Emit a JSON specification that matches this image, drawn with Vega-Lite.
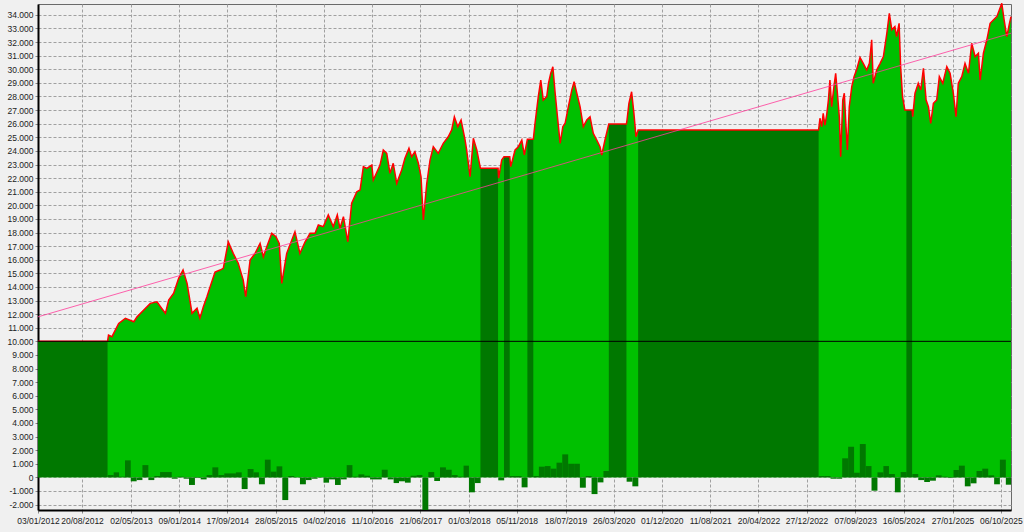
{
  "$schema": "https://vega.github.io/schema/vega-lite/v6.json",
  "width": 973,
  "height": 506,
  "autosize": {"type": "none"},
  "padding": {"left": 38, "top": 4, "right": 13, "bottom": 22},
  "background": "#f0f0f0",
  "config": {
    "view": {"fill": "#f0f0f0", "stroke": "#6a6a6a", "strokeWidth": 1},
    "axis": {
      "labelFont": "Liberation Sans",
      "labelFontSize": 8.5,
      "labelColor": "#222222",
      "gridColor": "#a0a0a0",
      "gridDash": [3, 2],
      "gridWidth": 1,
      "domainColor": "#000000",
      "domainWidth": 2,
      "tickColor": "#888888",
      "tickSize": 3
    }
  },
  "datasets": {
    "eq": [
      {"d": "2012-01-03", "v": 10000}, {"d": "2012-12-31", "v": 10000}, {"d": "2013-01-05", "v": 10460}, {"d": "2013-01-23", "v": 10340},
      {"d": "2013-02-27", "v": 11320}, {"d": "2013-04-03", "v": 11690}, {"d": "2013-05-17", "v": 11440}, {"d": "2013-06-03", "v": 11800},
      {"d": "2013-07-08", "v": 12300}, {"d": "2013-08-11", "v": 12790}, {"d": "2013-09-15", "v": 12900}, {"d": "2013-10-11", "v": 12400},
      {"d": "2013-10-29", "v": 12060}, {"d": "2013-11-15", "v": 13040}, {"d": "2013-12-11", "v": 13530}, {"d": "2014-01-06", "v": 14630},
      {"d": "2014-01-29", "v": 15240}, {"d": "2014-02-19", "v": 14260}, {"d": "2014-03-17", "v": 12060}, {"d": "2014-04-12", "v": 12430},
      {"d": "2014-04-27", "v": 11700}, {"d": "2014-05-15", "v": 12540}, {"d": "2014-06-03", "v": 13300}, {"d": "2014-06-19", "v": 14000},
      {"d": "2014-07-15", "v": 15100}, {"d": "2014-08-10", "v": 15240}, {"d": "2014-08-27", "v": 15370}, {"d": "2014-09-22", "v": 17320},
      {"d": "2014-10-18", "v": 16470}, {"d": "2014-11-13", "v": 15740}, {"d": "2014-12-09", "v": 14500}, {"d": "2014-12-22", "v": 13280},
      {"d": "2015-01-14", "v": 15980}, {"d": "2015-02-09", "v": 16470}, {"d": "2015-03-07", "v": 17200}, {"d": "2015-03-24", "v": 16220},
      {"d": "2015-04-11", "v": 16960}, {"d": "2015-05-07", "v": 17940}, {"d": "2015-05-29", "v": 17690}, {"d": "2015-06-15", "v": 17200},
      {"d": "2015-06-28", "v": 14260}, {"d": "2015-07-24", "v": 16470}, {"d": "2015-09-05", "v": 18060}, {"d": "2015-10-01", "v": 16470},
      {"d": "2015-10-28", "v": 17320}, {"d": "2015-11-23", "v": 17940}, {"d": "2015-12-19", "v": 17940}, {"d": "2016-01-05", "v": 18550},
      {"d": "2016-01-31", "v": 18430}, {"d": "2016-02-26", "v": 19290}, {"d": "2016-03-23", "v": 18430}, {"d": "2016-04-13", "v": 19290},
      {"d": "2016-04-27", "v": 18310}, {"d": "2016-05-15", "v": 19160}, {"d": "2016-06-07", "v": 17320}, {"d": "2016-06-27", "v": 20150},
      {"d": "2016-07-24", "v": 21000}, {"d": "2016-08-10", "v": 21130}, {"d": "2016-08-27", "v": 22840}, {"d": "2016-09-14", "v": 22720},
      {"d": "2016-10-10", "v": 22960}, {"d": "2016-10-18", "v": 21860}, {"d": "2016-11-22", "v": 22960}, {"d": "2016-12-09", "v": 24070},
      {"d": "2016-12-27", "v": 23820}, {"d": "2017-01-13", "v": 22350}, {"d": "2017-01-30", "v": 23090}, {"d": "2017-02-17", "v": 21620},
      {"d": "2017-03-15", "v": 22600}, {"d": "2017-04-01", "v": 23460}, {"d": "2017-04-22", "v": 24190}, {"d": "2017-05-06", "v": 23570},
      {"d": "2017-05-23", "v": 23940}, {"d": "2017-06-10", "v": 23090}, {"d": "2017-06-24", "v": 22100}, {"d": "2017-07-06", "v": 18920},
      {"d": "2017-07-24", "v": 21620}, {"d": "2017-08-10", "v": 23330}, {"d": "2017-08-27", "v": 24310}, {"d": "2017-09-22", "v": 23820},
      {"d": "2017-10-18", "v": 24560}, {"d": "2017-11-13", "v": 25040}, {"d": "2017-12-01", "v": 25540}, {"d": "2017-12-15", "v": 26510},
      {"d": "2018-01-02", "v": 25780}, {"d": "2018-01-19", "v": 26270}, {"d": "2018-02-09", "v": 24800}, {"d": "2018-02-17", "v": 24070},
      {"d": "2018-03-07", "v": 22100}, {"d": "2018-03-24", "v": 24930}, {"d": "2018-04-11", "v": 24070}, {"d": "2018-04-30", "v": 22720},
      {"d": "2018-07-31", "v": 22720}, {"d": "2018-08-03", "v": 21990}, {"d": "2018-08-19", "v": 23330}, {"d": "2018-08-31", "v": 23570},
      {"d": "2018-09-30", "v": 23570}, {"d": "2018-10-05", "v": 22840}, {"d": "2018-10-28", "v": 24070}, {"d": "2018-11-14", "v": 24310},
      {"d": "2018-12-02", "v": 24800}, {"d": "2018-12-15", "v": 23700}, {"d": "2018-12-31", "v": 24850}, {"d": "2019-01-31", "v": 24850},
      {"d": "2019-02-09", "v": 26030}, {"d": "2019-02-26", "v": 27990}, {"d": "2019-03-11", "v": 29210}, {"d": "2019-03-24", "v": 27740},
      {"d": "2019-04-11", "v": 27990}, {"d": "2019-04-20", "v": 28970}, {"d": "2019-05-02", "v": 29710}, {"d": "2019-05-13", "v": 30190},
      {"d": "2019-05-25", "v": 28240}, {"d": "2019-06-06", "v": 26510}, {"d": "2019-06-20", "v": 24560}, {"d": "2019-07-04", "v": 25780},
      {"d": "2019-07-16", "v": 26030}, {"d": "2019-08-02", "v": 27250}, {"d": "2019-08-20", "v": 28480}, {"d": "2019-09-01", "v": 29090},
      {"d": "2019-09-15", "v": 28240}, {"d": "2019-10-02", "v": 27250}, {"d": "2019-10-19", "v": 25780}, {"d": "2019-11-06", "v": 26270},
      {"d": "2019-11-23", "v": 26510}, {"d": "2019-12-10", "v": 25290}, {"d": "2019-12-28", "v": 24800}, {"d": "2020-01-14", "v": 24310},
      {"d": "2020-01-23", "v": 23700}, {"d": "2020-02-09", "v": 24800}, {"d": "2020-02-29", "v": 25980}, {"d": "2020-05-31", "v": 25980},
      {"d": "2020-06-03", "v": 26270}, {"d": "2020-06-13", "v": 27500}, {"d": "2020-06-27", "v": 28350}, {"d": "2020-07-09", "v": 26760},
      {"d": "2020-07-20", "v": 25040}, {"d": "2020-07-31", "v": 25540}, {"d": "2023-02-28", "v": 25540}, {"d": "2023-03-07", "v": 26400},
      {"d": "2023-03-16", "v": 25780}, {"d": "2023-03-24", "v": 26760}, {"d": "2023-04-02", "v": 25900}, {"d": "2023-04-11", "v": 26640},
      {"d": "2023-04-20", "v": 27740}, {"d": "2023-04-28", "v": 29210}, {"d": "2023-05-07", "v": 27250}, {"d": "2023-05-19", "v": 28720},
      {"d": "2023-05-28", "v": 29710}, {"d": "2023-06-06", "v": 28240}, {"d": "2023-06-16", "v": 26510}, {"d": "2023-06-23", "v": 23570},
      {"d": "2023-07-04", "v": 27740}, {"d": "2023-07-12", "v": 28240}, {"d": "2023-07-21", "v": 25780}, {"d": "2023-07-28", "v": 24070},
      {"d": "2023-08-07", "v": 27250}, {"d": "2023-08-20", "v": 28720}, {"d": "2023-09-01", "v": 29460}, {"d": "2023-09-15", "v": 30000},
      {"d": "2023-10-02", "v": 30870}, {"d": "2023-10-19", "v": 30440}, {"d": "2023-11-06", "v": 29950}, {"d": "2023-11-20", "v": 30440},
      {"d": "2023-12-02", "v": 32170}, {"d": "2023-12-10", "v": 28970}, {"d": "2023-12-28", "v": 29950}, {"d": "2024-01-15", "v": 30440},
      {"d": "2024-02-01", "v": 30930}, {"d": "2024-02-19", "v": 32650}, {"d": "2024-03-03", "v": 34120}, {"d": "2024-03-16", "v": 32900},
      {"d": "2024-04-01", "v": 33140}, {"d": "2024-04-10", "v": 32400}, {"d": "2024-04-23", "v": 33380}, {"d": "2024-05-01", "v": 30190},
      {"d": "2024-05-11", "v": 27990}, {"d": "2024-05-23", "v": 27000}, {"d": "2024-05-31", "v": 27000}, {"d": "2024-06-30", "v": 27000},
      {"d": "2024-07-03", "v": 26510}, {"d": "2024-07-15", "v": 28240}, {"d": "2024-08-01", "v": 28970}, {"d": "2024-08-14", "v": 28480},
      {"d": "2024-08-28", "v": 30070}, {"d": "2024-09-11", "v": 27740}, {"d": "2024-09-23", "v": 27250}, {"d": "2024-10-05", "v": 26030},
      {"d": "2024-10-19", "v": 27500}, {"d": "2024-11-05", "v": 27740}, {"d": "2024-11-19", "v": 29460}, {"d": "2024-12-07", "v": 28970},
      {"d": "2024-12-28", "v": 30190}, {"d": "2025-01-14", "v": 29710}, {"d": "2025-01-31", "v": 28240}, {"d": "2025-02-14", "v": 26510},
      {"d": "2025-02-26", "v": 28970}, {"d": "2025-03-16", "v": 29460}, {"d": "2025-04-02", "v": 30440}, {"d": "2025-04-20", "v": 29710},
      {"d": "2025-05-07", "v": 31910}, {"d": "2025-05-25", "v": 30930}, {"d": "2025-06-11", "v": 31180}, {"d": "2025-06-20", "v": 29210},
      {"d": "2025-07-07", "v": 31180}, {"d": "2025-07-25", "v": 32170}, {"d": "2025-08-11", "v": 33380}, {"d": "2025-08-28", "v": 33630},
      {"d": "2025-09-15", "v": 33870}, {"d": "2025-09-28", "v": 34360}, {"d": "2025-10-11", "v": 34850}, {"d": "2025-10-23", "v": 33630},
      {"d": "2025-11-06", "v": 32400}, {"d": "2025-11-20", "v": 33380}, {"d": "2025-11-28", "v": 33870}
    ],
    "flat": [
      {"s": "2012-01-03", "e": "2012-12-31", "v": 10000},
      {"s": "2018-04-30", "e": "2018-07-31", "v": 22720},
      {"s": "2018-08-31", "e": "2018-09-30", "v": 23570},
      {"s": "2018-12-31", "e": "2019-01-31", "v": 24850},
      {"s": "2020-02-29", "e": "2020-05-31", "v": 25980},
      {"s": "2020-07-31", "e": "2023-02-28", "v": 25540},
      {"s": "2024-05-31", "e": "2024-06-30", "v": 27000}
    ],
    "pnl": [
      {"s": "2013-01-01", "e": "2013-02-01", "v": 170}, {"s": "2013-02-01", "e": "2013-03-01", "v": 370}, {"s": "2013-03-01", "e": "2013-04-01", "v": 50},
      {"s": "2013-04-01", "e": "2013-05-01", "v": 1250}, {"s": "2013-05-01", "e": "2013-06-01", "v": -290}, {"s": "2013-06-01", "e": "2013-07-01", "v": -200},
      {"s": "2013-07-01", "e": "2013-08-01", "v": 900}, {"s": "2013-08-01", "e": "2013-09-01", "v": -200}, {"s": "2013-09-01", "e": "2013-10-01", "v": 100},
      {"s": "2013-10-01", "e": "2013-11-01", "v": 390}, {"s": "2013-11-01", "e": "2013-12-01", "v": 390}, {"s": "2013-12-01", "e": "2014-01-01", "v": -100},
      {"s": "2014-01-01", "e": "2014-02-01", "v": 50}, {"s": "2014-02-01", "e": "2014-03-01", "v": -100}, {"s": "2014-03-01", "e": "2014-04-01", "v": -560},
      {"s": "2014-04-01", "e": "2014-05-01", "v": -50}, {"s": "2014-05-01", "e": "2014-06-01", "v": -150}, {"s": "2014-06-01", "e": "2014-07-01", "v": 170},
      {"s": "2014-07-01", "e": "2014-08-01", "v": 735}, {"s": "2014-08-01", "e": "2014-09-01", "v": 170}, {"s": "2014-09-01", "e": "2014-10-01", "v": 290},
      {"s": "2014-10-01", "e": "2014-11-01", "v": 290}, {"s": "2014-11-01", "e": "2014-12-01", "v": 370}, {"s": "2014-12-01", "e": "2015-01-01", "v": -860},
      {"s": "2015-01-01", "e": "2015-02-01", "v": 610}, {"s": "2015-02-01", "e": "2015-03-01", "v": 370}, {"s": "2015-03-01", "e": "2015-04-01", "v": -510},
      {"s": "2015-04-01", "e": "2015-05-01", "v": 1300}, {"s": "2015-05-01", "e": "2015-06-01", "v": 420}, {"s": "2015-06-01", "e": "2015-07-01", "v": 810},
      {"s": "2015-07-01", "e": "2015-08-01", "v": -1670}, {"s": "2015-08-01", "e": "2015-09-01", "v": 100}, {"s": "2015-09-01", "e": "2015-10-01", "v": -25},
      {"s": "2015-10-01", "e": "2015-11-01", "v": -510}, {"s": "2015-11-01", "e": "2015-12-01", "v": -200}, {"s": "2015-12-01", "e": "2016-01-01", "v": -100},
      {"s": "2016-01-01", "e": "2016-02-01", "v": -30}, {"s": "2016-02-01", "e": "2016-03-01", "v": -390}, {"s": "2016-03-01", "e": "2016-04-01", "v": -150},
      {"s": "2016-04-01", "e": "2016-05-01", "v": -560}, {"s": "2016-05-01", "e": "2016-06-01", "v": -150}, {"s": "2016-06-01", "e": "2016-07-01", "v": 900},
      {"s": "2016-07-01", "e": "2016-08-01", "v": 50}, {"s": "2016-08-01", "e": "2016-09-01", "v": 220}, {"s": "2016-09-01", "e": "2016-10-01", "v": 120},
      {"s": "2016-10-01", "e": "2016-11-01", "v": -150}, {"s": "2016-11-01", "e": "2016-12-01", "v": -150}, {"s": "2016-12-01", "e": "2017-01-01", "v": 560},
      {"s": "2017-01-01", "e": "2017-02-01", "v": -150}, {"s": "2017-02-01", "e": "2017-03-01", "v": -420}, {"s": "2017-03-01", "e": "2017-04-01", "v": -290},
      {"s": "2017-04-01", "e": "2017-05-01", "v": -390}, {"s": "2017-05-01", "e": "2017-06-01", "v": 120}, {"s": "2017-06-01", "e": "2017-07-01", "v": 170},
      {"s": "2017-07-01", "e": "2017-08-01", "v": -2400}, {"s": "2017-08-01", "e": "2017-09-01", "v": 390}, {"s": "2017-09-01", "e": "2017-10-01", "v": -270},
      {"s": "2017-10-01", "e": "2017-11-01", "v": 735}, {"s": "2017-11-01", "e": "2017-12-01", "v": 560}, {"s": "2017-12-01", "e": "2018-01-01", "v": 170},
      {"s": "2018-01-01", "e": "2018-02-01", "v": 50}, {"s": "2018-02-01", "e": "2018-03-01", "v": 860}, {"s": "2018-03-01", "e": "2018-04-01", "v": -1100},
      {"s": "2018-04-01", "e": "2018-05-01", "v": -420}, {"s": "2018-08-01", "e": "2018-09-01", "v": -220}, {"s": "2018-10-01", "e": "2018-11-01", "v": 100},
      {"s": "2018-11-01", "e": "2018-12-01", "v": 100}, {"s": "2018-12-01", "e": "2019-01-01", "v": -735}, {"s": "2019-02-01", "e": "2019-03-01", "v": 100},
      {"s": "2019-03-01", "e": "2019-04-01", "v": 785}, {"s": "2019-04-01", "e": "2019-05-01", "v": 830}, {"s": "2019-05-01", "e": "2019-06-01", "v": 640},
      {"s": "2019-06-01", "e": "2019-07-01", "v": 1080}, {"s": "2019-07-01", "e": "2019-08-01", "v": 1690}, {"s": "2019-08-01", "e": "2019-09-01", "v": 1000},
      {"s": "2019-09-01", "e": "2019-10-01", "v": 1000}, {"s": "2019-10-01", "e": "2019-11-01", "v": -760}, {"s": "2019-11-01", "e": "2019-12-01", "v": 100},
      {"s": "2019-12-01", "e": "2020-01-01", "v": -1230}, {"s": "2020-01-01", "e": "2020-02-01", "v": -370}, {"s": "2020-02-01", "e": "2020-03-01", "v": 470},
      {"s": "2020-06-01", "e": "2020-07-01", "v": -320}, {"s": "2020-07-01", "e": "2020-08-01", "v": -660},
      {"s": "2023-03-01", "e": "2023-04-01", "v": 100}, {"s": "2023-04-01", "e": "2023-05-01", "v": 100}, {"s": "2023-05-01", "e": "2023-06-01", "v": -100},
      {"s": "2023-06-01", "e": "2023-07-01", "v": -100}, {"s": "2023-07-01", "e": "2023-08-01", "v": 1400}, {"s": "2023-08-01", "e": "2023-09-01", "v": 2250},
      {"s": "2023-09-01", "e": "2023-10-01", "v": 340}, {"s": "2023-10-01", "e": "2023-11-01", "v": 2450}, {"s": "2023-11-01", "e": "2023-12-01", "v": 830},
      {"s": "2023-12-01", "e": "2024-01-01", "v": -980}, {"s": "2024-01-01", "e": "2024-02-01", "v": 370}, {"s": "2024-02-01", "e": "2024-03-01", "v": 830},
      {"s": "2024-03-01", "e": "2024-04-01", "v": 245}, {"s": "2024-04-01", "e": "2024-05-01", "v": -1100}, {"s": "2024-05-01", "e": "2024-06-01", "v": 390},
      {"s": "2024-07-01", "e": "2024-08-01", "v": 245}, {"s": "2024-08-01", "e": "2024-09-01", "v": -200}, {"s": "2024-09-01", "e": "2024-10-01", "v": -340},
      {"s": "2024-10-01", "e": "2024-11-01", "v": -245}, {"s": "2024-11-01", "e": "2024-12-01", "v": 150}, {"s": "2024-12-01", "e": "2025-01-01", "v": 50},
      {"s": "2025-01-01", "e": "2025-02-01", "v": -50}, {"s": "2025-02-01", "e": "2025-03-01", "v": 540}, {"s": "2025-03-01", "e": "2025-04-01", "v": 860},
      {"s": "2025-04-01", "e": "2025-05-01", "v": -660}, {"s": "2025-05-01", "e": "2025-06-01", "v": -440}, {"s": "2025-06-01", "e": "2025-07-01", "v": 470},
      {"s": "2025-07-01", "e": "2025-08-01", "v": 640}, {"s": "2025-08-01", "e": "2025-09-01", "v": 150}, {"s": "2025-09-01", "e": "2025-10-01", "v": -510},
      {"s": "2025-10-01", "e": "2025-11-01", "v": 1300}, {"s": "2025-11-01", "e": "2025-11-28", "v": -540}
    ],
    "trend": [
      {"d": "2012-01-03", "v": 11800},
      {"d": "2025-11-28", "v": 32650}
    ],
    "ref": [
      {"v": 10000}
    ]
  },
  "encoding": {
    "y": {
      "field": "v",
      "type": "quantitative",
      "title": null,
      "scale": {"domain": [-2400, 34800], "nice": false, "zero": false},
      "axis": {
        "values": [-2000, -1000, 0, 1000, 2000, 3000, 4000, 5000, 6000, 7000, 8000, 9000, 10000, 11000, 12000, 13000, 14000, 15000, 16000, 17000, 18000, 19000, 20000, 21000, 22000, 23000, 24000, 25000, 26000, 27000, 28000, 29000, 30000, 31000, 32000, 33000, 34000],
        "labelExpr": "replace(replace(format(datum.value, ','), ',', '.'), '\u2212', '-')",
        "labelOverlap": false,
        "labelPadding": 2,
        "grid": true
      }
    }
  },
  "layer": [
    {
      "data": {"name": "eq"},
      "mark": {"type": "area", "color": "#00c000", "interpolate": "linear"},
      "encoding": {
        "x": {
          "field": "d",
          "type": "temporal",
          "title": null,
          "scale": {"domain": [{"year": 2012, "month": 1, "date": 3}, {"year": 2025, "month": 11, "date": 28}]},
          "axis": {
            "values": [
              {"year": 2012, "month": 1, "date": 3}, {"year": 2012, "month": 8, "date": 20}, {"year": 2013, "month": 5, "date": 2},
              {"year": 2014, "month": 1, "date": 9}, {"year": 2014, "month": 9, "date": 17}, {"year": 2015, "month": 5, "date": 28},
              {"year": 2016, "month": 2, "date": 4}, {"year": 2016, "month": 10, "date": 11}, {"year": 2017, "month": 6, "date": 21},
              {"year": 2018, "month": 3, "date": 1}, {"year": 2018, "month": 11, "date": 5}, {"year": 2019, "month": 7, "date": 18},
              {"year": 2020, "month": 3, "date": 26}, {"year": 2020, "month": 12, "date": 1}, {"year": 2021, "month": 8, "date": 11},
              {"year": 2022, "month": 4, "date": 20}, {"year": 2022, "month": 12, "date": 27}, {"year": 2023, "month": 9, "date": 7},
              {"year": 2024, "month": 5, "date": 16}, {"year": 2025, "month": 1, "date": 27}, {"year": 2025, "month": 10, "date": 6}
            ],
            "format": "%d/%m/%Y",
            "formatType": "time",
            "labelFlush": false,
            "labelOverlap": false,
            "labelPadding": 3,
            "grid": true
          }
        },
        "y2": {"datum": 0}
      }
    },
    {
      "data": {"name": "flat"},
      "mark": {"type": "rect", "color": "#007800"},
      "encoding": {
        "x": {"field": "s", "type": "temporal", "title": null},
        "x2": {"field": "e"},
        "y2": {"datum": 0}
      }
    },
    {
      "data": {"name": "pnl"},
      "mark": {"type": "rect", "color": "#007800"},
      "encoding": {
        "x": {"field": "s", "type": "temporal", "title": null},
        "x2": {"field": "e"},
        "y2": {"datum": 0}
      }
    },
    {
      "data": {"name": "eq"},
      "mark": {"type": "line", "color": "#ff0000", "strokeWidth": 1.5},
      "encoding": {
        "x": {"field": "d", "type": "temporal", "title": null}
      }
    },
    {
      "data": {"name": "trend"},
      "mark": {"type": "line", "color": "#ff3c9a", "strokeWidth": 1, "opacity": 0.8},
      "encoding": {
        "x": {"field": "d", "type": "temporal", "title": null}
      }
    },
    {
      "data": {"name": "ref"},
      "mark": {"type": "rule", "color": "#000000", "strokeWidth": 1},
      "encoding": {}
    }
  ]
}
